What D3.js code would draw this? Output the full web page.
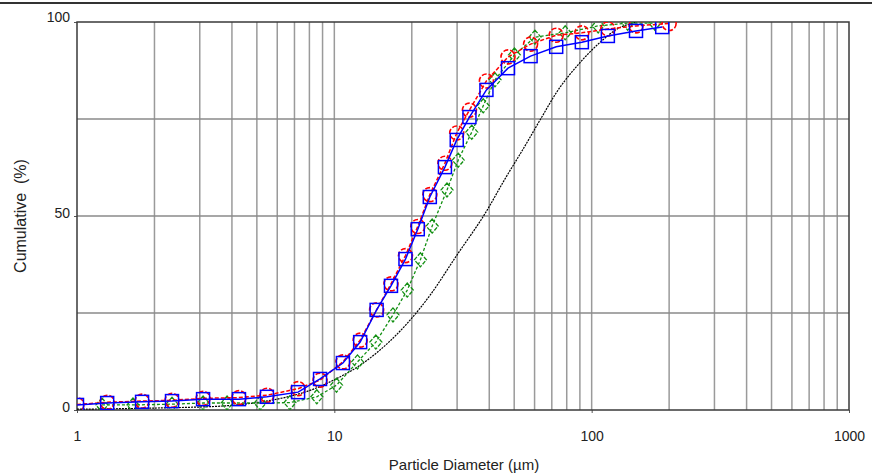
<!DOCTYPE html>
<html>
<head>
<meta charset="utf-8">
<script src="https://cdn.jsdelivr.net/npm/d3@7"></script>
<style>
  body { margin: 0; background: #fff; }
  svg { display: block; font-family: Arial, "Liberation Sans", sans-serif; }
</style>
</head>
<body>
<svg id="chart" width="872" height="474"></svg>
<script>
// Particle diameter (um) and cumulative (%)
const blueSize = [1.0, 1.31, 1.79, 2.34, 3.09, 4.26, 5.47, 7.23, 8.80, 10.8, 12.6, 14.6, 16.6, 18.9, 21.1, 23.5, 26.9, 29.9, 33.5, 39.0, 47.3, 57.9, 72.8, 91.6, 115.6, 148.7, 188];
const blueCum  = [1.3, 1.8, 2.1, 2.3, 2.8, 2.8, 3.4, 4.6, 8.0, 12.1, 17.5, 25.8, 32.0, 38.9, 46.6, 54.9, 62.6, 69.6, 75.5, 82.5, 88.1, 91.2, 93.6, 94.8, 96.4, 97.7, 98.7];

const redSize = [1.0, 1.31, 1.79, 2.34, 3.09, 4.26, 5.47, 7.23, 8.80, 10.8, 12.6, 14.6, 16.6, 18.9, 21.1, 23.5, 26.9, 29.9, 33.5, 39.0, 47.3, 57.9, 72.8, 91.6, 115.6, 148.7, 200];
const redCum  = [1.4, 2.0, 2.3, 2.5, 3.0, 3.2, 3.8, 5.5, 7.7, 12.4, 18.0, 25.8, 32.5, 39.8, 47.3, 55.5, 63.6, 71.4, 77.3, 84.8, 91.0, 94.3, 96.6, 97.2, 98.2, 99.0, 99.6];

const greenSize = [1.25, 1.65, 2.34, 3.09, 3.83, 5.15, 6.72, 8.55, 10.2, 12.3, 14.5, 16.9, 19.2, 21.6, 24.0, 27.4, 30.3, 34.2, 37.9, 42.1, 50.1, 60.2, 78.9, 106, 138, 176];
const greenCum  = [1.3, 1.3, 1.5, 1.8, 1.8, 1.8, 1.9, 3.4, 6.4, 12.4, 17.5, 24.5, 30.9, 38.7, 47.4, 56.7, 64.4, 71.6, 78.4, 85.1, 91.5, 96.1, 97.2, 99.0, 99.7, 99.7];

const blackSize = [1, 2, 4, 6, 8, 10, 12.5, 15.5, 19, 23.5, 30, 38, 46, 55, 64, 75, 90, 108, 128, 150];
const blackCum  = [0.2, 0.5, 1.2, 2.8, 5.0, 7.8, 11.4, 16.2, 22.0, 29.5, 40.0, 50.0, 59.5, 68.0, 75.5, 83.0, 89.5, 94.8, 98.5, 100];

const xTicks = [1, 10, 100, 1000];
const yTicks = [0, 50, 100];
const yGrid = [25, 50, 75];

const plot = { left: 77, top: 22, right: 849, bottom: 410 };

const svg = d3.select('#chart');

// thin rule across the top of the window
svg.append('line')
  .attr('x1', 0).attr('x2', 872)
  .attr('y1', 3).attr('y2', 3)
  .attr('stroke', '#333').attr('stroke-width', 2);

const x = d3.scaleLog().domain([1, 1000]).range([plot.left, plot.right]);
const y = d3.scaleLinear().domain([0, 100]).range([plot.bottom, plot.top]);

// vertical grid: 2..9 in every decade
const vGrid = [];
[1, 10, 100].forEach(dec => { for (let k = 2; k <= 9; k++) vGrid.push(dec * k); });
vGrid.push(10, 100);

svg.append('g')
  .selectAll('line')
  .data(vGrid)
  .join('line')
  .attr('x1', d => x(d)).attr('x2', d => x(d))
  .attr('y1', plot.top).attr('y2', plot.bottom)
  .attr('stroke', '#9a9a9a').attr('stroke-width', 1.5);

svg.append('g')
  .selectAll('line')
  .data(yGrid)
  .join('line')
  .attr('x1', plot.left).attr('x2', plot.right)
  .attr('y1', d => y(d)).attr('y2', d => y(d))
  .attr('stroke', '#8a8a8a').attr('stroke-width', 1.5);

// axes (ticks and labels)
const xAxis = svg.append('g')
  .attr('transform', `translate(0,${plot.bottom})`)
  .call(d3.axisBottom(x).tickValues(xTicks).tickFormat(d3.format('d')).tickSize(3).tickPadding(18));
const yAxis = svg.append('g')
  .attr('transform', `translate(${plot.left},0)`)
  .call(d3.axisLeft(y).tickValues(yTicks).tickSize(3).tickPadding(4));

[xAxis, yAxis].forEach(g => {
  g.select('.domain').remove();
  g.selectAll('.tick line').attr('stroke', '#555');
  g.selectAll('.tick text')
    .attr('fill', '#222')
    .style('font-size', '14px')
    .style('font-family', 'Arial, "Liberation Sans", sans-serif');
});
yAxis.selectAll('.tick text').attr('dy', '0.1em');
yAxis.selectAll('.tick').filter(d => d === 100).select('text').attr('dy', '-0.05em');

// plot border
svg.append('rect')
  .attr('x', plot.left).attr('y', plot.top)
  .attr('width', plot.right - plot.left).attr('height', plot.bottom - plot.top)
  .attr('fill', 'none').attr('stroke', '#3a3a3a').attr('stroke-width', 1.5);

// axis titles
svg.append('text')
  .attr('x', 464).attr('y', 470)
  .attr('text-anchor', 'middle')
  .attr('fill', '#222')
  .style('font-size', '15px')
  .text('Particle Diameter (µm)');

svg.append('text')
  .attr('transform', 'translate(26,216) rotate(-90)')
  .attr('text-anchor', 'middle')
  .attr('fill', '#222')
  .style('font-size', '16px')
  .style('white-space', 'pre')
  .text('Cumulative  (%)');

// clip the curves to the plot area
svg.append('clipPath').attr('id', 'plotClip')
  .append('rect')
  .attr('x', plot.left).attr('y', plot.top)
  .attr('width', plot.right - plot.left).attr('height', plot.bottom - plot.top);

const area = svg.append('g').attr('clip-path', 'url(#plotClip)');

const zip = (s, c) => s.map((d, i) => ({ size: d, cum: c[i] }));
const blackData = zip(blackSize, blackCum);
const greenData = zip(greenSize, greenCum);
const redData = zip(redSize, redCum);
const blueData = zip(blueSize, blueCum);

const line = d3.line().x(d => x(d.size)).y(d => y(d.cum));

// black reference curve
area.append('path')
  .datum(blackData)
  .attr('fill', 'none')
  .attr('stroke', '#000')
  .attr('stroke-width', 1.2)
  .attr('stroke-dasharray', '2,1')
  .attr('d', line.curve(d3.curveCatmullRom.alpha(0.5)));

line.curve(d3.curveLinear);

// green: dashed line with diamonds
area.append('path')
  .datum(greenData)
  .attr('fill', 'none')
  .attr('stroke', '#139013')
  .attr('stroke-width', 1.3)
  .attr('stroke-dasharray', '3,2')
  .attr('d', line);

area.append('g')
  .selectAll('path')
  .data(greenData)
  .join('path')
  .attr('d', 'M0,-7L6,0L0,7L-6,0Z')
  .attr('transform', d => `translate(${x(d.size)},${y(d.cum)})`)
  .attr('fill', 'none')
  .attr('stroke', '#139013')
  .attr('stroke-width', 1.3)
  .attr('stroke-dasharray', '4,1.5');

// red: dashed line with circles
area.append('path')
  .datum(redData)
  .attr('fill', 'none')
  .attr('stroke', '#ff0000')
  .attr('stroke-width', 1.5)
  .attr('stroke-dasharray', '4,2')
  .attr('d', line);

area.append('g')
  .selectAll('circle')
  .data(redData)
  .join('circle')
  .attr('cx', d => x(d.size))
  .attr('cy', d => y(d.cum))
  .attr('r', 7)
  .attr('fill', 'none')
  .attr('stroke', '#ff0000')
  .attr('stroke-width', 1.6)
  .attr('stroke-dasharray', '5,2');

// blue: solid line with squares
area.append('path')
  .datum(blueData)
  .attr('fill', 'none')
  .attr('stroke', '#0000ff')
  .attr('stroke-width', 1.5)
  .attr('d', line);

area.append('g')
  .selectAll('rect')
  .data(blueData)
  .join('rect')
  .attr('x', d => x(d.size) - 6.5)
  .attr('y', d => y(d.cum) - 6.5)
  .attr('width', 13).attr('height', 13)
  .attr('fill', 'none')
  .attr('stroke', '#0000ff')
  .attr('stroke-width', 1.5);
</script>
</body>
</html>
